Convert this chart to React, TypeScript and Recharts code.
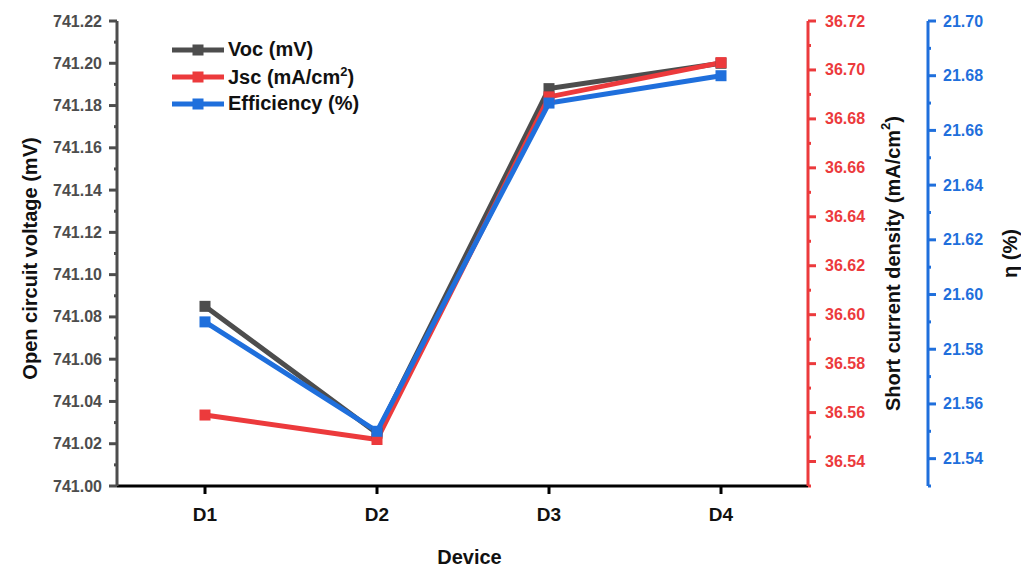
import { Label, Legend, Line, LineChart, XAxis, YAxis } from 'recharts'

const DEVICES = ['D1', 'D2', 'D3', 'D4']
const VOC = [741.085, 741.025, 741.188, 741.2]
const JSC = [36.559, 36.549, 36.689, 36.703]
const EFFICIENCY = [21.59, 21.55, 21.67, 21.68]

const VOC_TICKS = [741.0, 741.02, 741.04, 741.06, 741.08, 741.1, 741.12, 741.14, 741.16, 741.18, 741.2, 741.22]
const JSC_TICKS = [36.54, 36.56, 36.58, 36.6, 36.62, 36.64, 36.66, 36.68, 36.7, 36.72]
const EFF_TICKS = [21.54, 21.56, 21.58, 21.6, 21.62, 21.64, 21.66, 21.68, 21.7]

const VOC_DOMAIN: [number, number] = [741.0, 741.22]
const JSC_DOMAIN: [number, number] = [36.53, 36.72]
const EFF_DOMAIN: [number, number] = [21.53, 21.7]

const GRAY = '#4d4d4d'
const RED = '#ec3a3c'
const BLUE = '#1f6fdc'
const FONT = '"Liberation Sans", Arial, Helvetica, sans-serif'

const data = DEVICES.map((device, i) => ({
  device,
  voc: VOC[i],
  jsc: JSC[i],
  eff: EFFICIENCY[i],
}))

// majors plus a minor tick halfway between each pair
function withMinors(majors: number[], min: number) {
  const minors = majors.map((m) => +(m - 0.01).toFixed(2)).filter((m) => m >= min - 1e-9)
  return [...majors, ...minors].sort((a, b) => a - b)
}

const TICK_SIZE = 8

function makeTick(color: string, side: 'left' | 'right', majors: number[], margin: number) {
  return (props: any) => {
    const { x, y, payload } = props
    const isMajor = majors.some((m) => Math.abs(m - payload.value) < 1e-6)
    const axisX = side === 'left' ? x + TICK_SIZE + margin : x - TICK_SIZE - margin
    const len = isMajor ? TICK_SIZE : 3
    const x2 = side === 'left' ? axisX - len : axisX + len
    return (
      <g>
        <line x1={axisX} y1={y} x2={x2} y2={y} stroke={color} strokeWidth={3} />
        {isMajor && (
          <text
            x={x}
            y={y}
            textAnchor={side === 'left' ? 'end' : 'start'}
            dominantBaseline="central"
            fill={color}
            fontSize={16}
            fontWeight="bold"
            fontFamily={FONT}
          >
            {payload.value.toFixed(2)}
          </text>
        )}
      </g>
    )
  }
}

function verticalTitle(dx: number, dy: number, content: React.ReactNode) {
  return (props: any) => {
    const vb = props.viewBox
    const cx = vb.x + dx
    const cy = vb.y + vb.height / 2 + dy
    return (
      <text
        x={cx}
        y={cy}
        transform={`rotate(-90 ${cx} ${cy})`}
        textAnchor="middle"
        dominantBaseline="central"
        fill="#111"
        fontSize={20}
        fontWeight="bold"
        fontFamily={FONT}
      >
        {content}
      </text>
    )
  }
}

const SERIES = [
  { name: 'Voc (mV)', color: GRAY },
  { name: 'Jsc (mA/cm²)', color: RED },
  { name: 'Efficiency (%)', color: BLUE },
]

function renderLegend() {
  return (
    <div style={{ fontFamily: FONT, fontWeight: 'bold', fontSize: 20, color: '#111' }}>
      {SERIES.map((s) => (
        <div key={s.name} style={{ display: 'flex', alignItems: 'center', height: 27 }}>
          <svg width={52} height={12} style={{ marginRight: 4 }}>
            <line x1={0} y1={6} x2={52} y2={6} stroke={s.color} strokeWidth={5} />
            <rect x={20.5} y={0.5} width={11} height={11} fill={s.color} />
          </svg>
          {s.name === 'Jsc (mA/cm²)' ? (
            <span>
              Jsc (mA/cm<sup style={{ fontSize: 13 }}>2</sup>)
            </span>
          ) : (
            <span>{s.name}</span>
          )}
        </div>
      ))}
    </div>
  )
}

function squareDot(color: string) {
  return (p: any) => (
    <rect key={`dot-${p.index}`} x={p.cx - 5.5} y={p.cy - 5.5} width={11} height={11} fill={color} />
  )
}

export default function App() {
  return (
    <div style={{ position: 'absolute', left: 0, top: 0, background: '#fff' }}>
      <LineChart
        width={1021}
        height={567}
        data={data}
        margin={{ top: 21, right: 0, bottom: 0, left: 0 }}
      >
        <XAxis
          dataKey="device"
          padding={{ left: 88, right: 87 }}
          height={81}
          stroke="#000"
          strokeWidth={3}
          tickSize={8}
          tickMargin={14}
          tick={{ fill: '#111', fontSize: 19, fontWeight: 'bold', fontFamily: FONT }}
        >
          <Label
            content={(props: any) => {
              const vb = props.viewBox
              return (
                <text
                  x={vb.x + vb.width / 2 + 7}
                  y={557}
                  textAnchor="middle"
                  dominantBaseline="central"
                  fill="#111"
                  fontSize={20}
                  fontWeight="bold"
                  fontFamily={FONT}
                >
                  Device
                </text>
              )
            }}
          />
        </XAxis>
        <YAxis
          yAxisId="l0"
          orientation="left"
          width={117}
          domain={VOC_DOMAIN}
          ticks={withMinors(VOC_TICKS, VOC_DOMAIN[0])}
          interval={0}
          allowDataOverflow
          stroke={GRAY}
          strokeWidth={3}
          tickLine={false}
          tickSize={TICK_SIZE}
          tickMargin={7}
          tick={makeTick(GRAY, 'left', VOC_TICKS, 7)}
        >
          <Label content={verticalTitle(30, 5, 'Open circuit voltage (mV)')} />
        </YAxis>
        {/* r1 sits next to the plot, r2 outside it */}
        <YAxis
          yAxisId="r1"
          orientation="right"
          width={120}
          domain={JSC_DOMAIN}
          ticks={withMinors(JSC_TICKS, JSC_DOMAIN[0])}
          interval={0}
          allowDataOverflow
          stroke={RED}
          strokeWidth={3}
          tickLine={false}
          tickSize={TICK_SIZE}
          tickMargin={9}
          tick={makeTick(RED, 'right', JSC_TICKS, 9)}
        >
          <Label
            content={verticalTitle(
              85,
              10,
              <>
                Short current density (mA/cm
                <tspan baselineShift="super" fontSize={13}>
                  2
                </tspan>
                )
              </>,
            )}
          />
        </YAxis>
        <YAxis
          yAxisId="r2"
          orientation="right"
          width={93}
          domain={EFF_DOMAIN}
          ticks={withMinors(EFF_TICKS, EFF_DOMAIN[0])}
          interval={0}
          allowDataOverflow
          stroke={BLUE}
          strokeWidth={3}
          tickLine={false}
          tickSize={TICK_SIZE}
          tickMargin={7}
          tick={makeTick(BLUE, 'right', EFF_TICKS, 7)}
        >
          <Label content={verticalTitle(82, 0, 'η (%)')} />
        </YAxis>
        <Legend
          layout="vertical"
          align="center"
          verticalAlign="middle"
          content={renderLegend}
          wrapperStyle={{ left: 172, top: 36, width: 'auto', height: 'auto' }}
        />
        <Line
          yAxisId="l0"
          dataKey="voc"
          name="Voc (mV)"
          stroke={GRAY}
          strokeWidth={5}
          dot={squareDot(GRAY)}
          activeDot={false}
          isAnimationActive={false}
        />
        <Line
          yAxisId="r1"
          dataKey="jsc"
          name="Jsc (mA/cm²)"
          stroke={RED}
          strokeWidth={5}
          dot={squareDot(RED)}
          activeDot={false}
          isAnimationActive={false}
        />
        <Line
          yAxisId="r2"
          dataKey="eff"
          name="Efficiency (%)"
          stroke={BLUE}
          strokeWidth={5}
          dot={squareDot(BLUE)}
          activeDot={false}
          isAnimationActive={false}
        />
      </LineChart>
    </div>
  )
}
